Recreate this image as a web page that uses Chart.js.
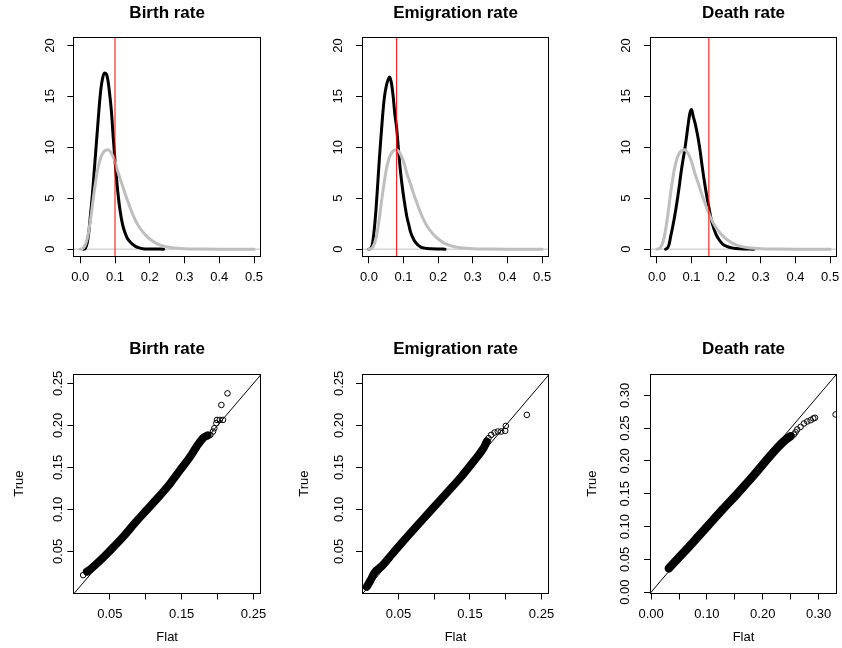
<!DOCTYPE html>
<html><head><meta charset="utf-8">
<script src="https://cdn.jsdelivr.net/npm/chart.js@4.4.0/dist/chart.umd.min.js"></script>
<style>
html,body{margin:0;padding:0;background:#fff;}
body{width:842px;height:648px;position:relative;overflow:hidden;}
canvas{position:absolute;}
</style></head><body>
<canvas id="c1"></canvas><canvas id="c2"></canvas><canvas id="c3"></canvas>
<canvas id="c4"></canvas><canvas id="c5"></canvas><canvas id="c6"></canvas>
<script>
// ---------- data ----------
const titles = ["Birth rate", "Emigration rate", "Death rate"];
const trueRates = [0.10, 0.08, 0.15];

// prior density (grey)
const priorX = [0,0.01,0.02,0.03,0.04,0.05,0.06,0.07,0.08,0.09,0.10,0.11,0.12,0.13,0.14,0.15,0.16,0.17,0.18,0.19,0.20,0.22,0.24,0.26,0.28,0.30,0.35,0.40,0.50];
const priorY = [0,0.15,1.0,3.0,5.6,7.8,9.1,9.65,9.77,9.4,8.6,7.4,6.4,5.35,4.4,3.5,2.75,2.15,1.7,1.3,1.0,0.55,0.3,0.16,0.08,0.04,0.01,0,0];

// posterior densities (black)
const birthPostX = [0.010,0.015,0.020,0.025,0.030,0.035,0.040,0.045,0.050,0.055,0.060,0.065,0.070,0.075,0.080,0.085,0.090,0.095,0.100,0.105,0.110,0.115,0.120,0.125,0.130,0.135,0.140,0.150,0.160,0.170,0.180,0.200,0.220,0.240];
const birthPostY = [0,0.1,0.6,1.8,3.6,5.4,7.6,9.8,12.0,14.2,15.9,16.9,17.3,17.2,16.5,15.1,13.4,10.9,8.7,6.7,5.0,3.7,2.7,2.0,1.5,1.1,0.85,0.5,0.25,0.12,0.05,0.02,0.01,0];
const emigPostX = [0,0.005,0.010,0.015,0.020,0.025,0.030,0.035,0.040,0.045,0.050,0.055,0.060,0.065,0.070,0.075,0.080,0.085,0.090,0.095,0.100,0.105,0.110,0.115,0.120,0.130,0.140,0.150,0.160,0.180,0.200,0.220];
const emigPostY = [0,0.05,0.5,1.8,3.7,6.2,8.8,11.1,13.3,15.0,16.0,16.6,16.9,16.3,15.0,13.2,11.9,9.9,8.0,6.5,5.2,4.1,3.1,2.4,1.7,0.9,0.45,0.2,0.1,0.03,0.01,0];
const deathPostX = [0.025,0.030,0.035,0.040,0.045,0.050,0.055,0.060,0.065,0.070,0.075,0.080,0.085,0.090,0.095,0.100,0.105,0.110,0.115,0.120,0.125,0.130,0.135,0.140,0.145,0.150,0.155,0.160,0.170,0.180,0.190,0.200,0.220,0.240,0.280];
const deathPostY = [0,0.1,0.45,1.3,2.1,3.0,4.0,5.1,6.3,7.6,8.7,9.7,10.9,12.2,13.3,13.7,13.0,12.4,11.6,10.7,9.6,8.3,7.1,6.0,5.0,4.1,3.2,2.5,1.5,0.9,0.5,0.3,0.1,0.03,0];

// QQ plots: dense band + sparse circles
const birthFlat = [0.018,0.023,0.038,0.049,0.069,0.085,0.102,0.119,0.134,0.148,0.162,0.171,0.180,0.186];
const birthTrue = [0.026,0.029,0.0405,0.050,0.068,0.084,0.100,0.116,0.131,0.147,0.163,0.175,0.185,0.188];
const birthTailFlat = [0.0127,0.190,0.1936,0.1955,0.1983,0.1992,0.203,0.2076,0.2053,0.2138];
const birthTailTrue = [0.0219,0.1887,0.1927,0.1966,0.2026,0.2065,0.2065,0.2065,0.2243,0.2381];

const emigFlat = [0.0057,0.0104,0.0164,0.0267,0.0407,0.0547,0.0733,0.0943,0.1153,0.1362,0.1549,0.1689,0.1735];
const emigTrue = [0.0081,0.0148,0.0247,0.0326,0.0464,0.0603,0.0781,0.0978,0.1176,0.1374,0.1571,0.1729,0.1808];
const emigTailFlat = [0.1759,0.1796,0.1843,0.1889,0.1936,0.1992,0.2001,0.2295];
const emigTailTrue = [0.1848,0.1887,0.1915,0.1927,0.1927,0.1935,0.1994,0.2125];

const deathFlat = [0.0317,0.0496,0.0735,0.1004,0.1273,0.1542,0.1811,0.205,0.226,0.2379,0.2499];
const deathTrue = [0.0362,0.0526,0.0745,0.1,0.1255,0.15,0.1755,0.1995,0.2199,0.2301,0.2378];
const deathTailFlat = [0.2558,0.2588,0.2618,0.2678,0.2738,0.2797,0.2857,0.2905,0.2935,0.3305];
const deathTailTrue = [0.2403,0.2439,0.248,0.2520,0.2571,0.2602,0.2622,0.2648,0.2658,0.2709];

// ticks
const topXTicks = [0,0.1,0.2,0.3,0.4,0.5];
const topXLabels = ["0.0","0.1","0.2","0.3","0.4","0.5"];
const topYTicks = [0,5,10,15,20];
const topYLabels = ["0","5","10","15","20"];
const qqTicks = [0.05,0.10,0.15,0.20,0.25];
const qqXLabels = ["0.05","","0.15","","0.25"];
const qqYLabels = ["0.05","0.10","0.15","0.20","0.25"];
const deathQQTicks = [0,0.05,0.10,0.15,0.20,0.25,0.30];
const deathQQXLabels = ["0.00","","0.10","","0.20","","0.30"];
const deathQQYLabels = ["0.00","0.05","0.10","0.15","0.20","0.25","0.30"];

// ---------- drawing ----------
const FONT = '"Liberation Sans", Arial, Helvetica, sans-serif';
Chart.defaults.font.family = FONT;
Chart.defaults.color = '#000';

const boxPlugin = {
  id: 'rbox',
  afterDraw(chart) {
    const {ctx, chartArea: a} = chart;
    ctx.save();
    ctx.strokeStyle = '#000'; ctx.lineWidth = 1;
    const l = Math.round(a.left) + 0.5, t = Math.round(a.top) + 0.5;
    const r = Math.round(a.right) - 0.5, b = Math.round(a.bottom) - 0.5;
    ctx.strokeRect(l, t, r - l, b - t);
    ctx.restore();
  }
};

function pts(xs, ys) { return xs.map((x, i) => ({x: x, y: ys[i]})); }

function curve(data, color, w, order) {
  return {data: data, showLine: true, borderColor: color, borderWidth: w, pointRadius: 0,
          order: order, cubicInterpolationMode: 'monotone', fill: false,
          borderCapStyle: 'round', borderJoinStyle: 'round'};
}
function circles(data, order) {
  return {data: data, showLine: false, pointRadius: 2.8, pointBorderWidth: 1,
          borderColor: '#000', pointBorderColor: '#000', backgroundColor: 'rgba(0,0,0,0)',
          pointBackgroundColor: 'rgba(0,0,0,0)', order: order};
}

function axisOpts(dir, min, max, ticks, labels, size, pad, titleText, titlePad) {
  return {
    type: 'linear', min: min, max: max, position: dir === 'x' ? 'bottom' : 'left',
    afterBuildTicks: s => { s.ticks = ticks.map(v => ({value: v})); },
    afterFit: s => {
      if (dir === 'x') s.height = size; else s.width = size;
      s.paddingLeft = 0; s.paddingRight = 0; s.paddingTop = 0; s.paddingBottom = 0;
    },
    grid: {display: true, drawOnChartArea: false, drawTicks: true, tickLength: 6, color: '#000', lineWidth: 1},
    border: {display: false},
    ticks: {autoSkip: false, padding: pad, font: {size: 13}, color: '#000',
            minRotation: dir === 'y' ? 90 : 0, maxRotation: dir === 'y' ? 90 : 0,
            crossAlign: dir === 'y' ? 'center' : 'near',
            callback: (v, i) => labels[i]},
    title: titleText ? {display: true, text: titleText, font: {size: 13}, color: '#000',
            padding: dir === 'x' ? {top: 0, bottom: titlePad} : {top: titlePad, bottom: 0}} : {display: false}
  };
}

function panel(id, g, title, datasets, xs, ys) {
  const cv = document.getElementById(id);
  cv.width = g.w; cv.height = g.h;
  cv.style.left = g.l + 'px'; cv.style.top = g.t + 'px';
  const titleLH = 17 * 1.2;
  const tb = (g.bt - g.t) - g.titleTop - titleLH;
  new Chart(cv, {
    type: 'scatter',
    data: {datasets: datasets},
    options: {
      responsive: false, animation: false, devicePixelRatio: 1,
      layout: {padding: {left: 0, top: 0, bottom: 0, right: g.l + g.w - g.br}},
      plugins: {
        legend: {display: false}, tooltip: {enabled: false},
        title: {display: true, text: title, fullSize: false, color: '#000',
                font: {size: 17, weight: 'bold', family: FONT},
                padding: {top: g.titleTop, bottom: tb}}
      },
      scales: {
        x: axisOpts('x', xs.min, xs.max, xs.ticks, xs.labels, g.t + g.h - g.bb, xs.pad, xs.title, xs.titlePad),
        y: axisOpts('y', ys.min, ys.max, ys.ticks, ys.labels, g.bl - g.l, ys.pad, ys.title, ys.titlePad)
      }
    },
    plugins: [boxPlugin]
  });
}

const cols = [
  {l: 0, w: 280, bl: 73.3, br: 261},
  {l: 280, w: 280, bl: 362, br: 549},
  {l: 560, w: 282, bl: 650, br: 837}
];
const topRow = {t: 0, h: 300, bt: 37.3, bb: 257.3, titleTop: 3.3};
const botRow = {t: 320, h: 328, bt: 373.7, bb: 593.5, titleTop: 19.5};

const posts = [pts(birthPostX, birthPostY), pts(emigPostX, emigPostY), pts(deathPostX, deathPostY)];
const topYPad = [10, 10, 10.5];

for (let i = 0; i < 3; i++) {
  const g = Object.assign({}, cols[i], topRow);
  const r = trueRates[i];
  const ds = [
    curve([{x: r, y: -5}, {x: r, y: 30}], '#FF0000', 1, 0),
    curve(pts(priorX, priorY), '#BEBEBE', 3, 1),
    curve(posts[i], '#000000', 3, 2),
    curve([{x: -1, y: 0}, {x: 1, y: 0}], '#BEBEBE', 1, 3)
  ];
  ds[0].cubicInterpolationMode = 'default'; ds[3].cubicInterpolationMode = 'default';
  panel('c' + (i + 1), g, titles[i], ds,
    {min: -0.02, max: 0.52, ticks: topXTicks, labels: topXLabels, pad: 6.5},
    {min: -0.8, max: 20.8, ticks: topYTicks, labels: topYLabels, pad: topYPad[i]});
}

const bands = [pts(birthFlat, birthTrue), pts(emigFlat, emigTrue), pts(deathFlat, deathTrue)];
const tails = [pts(birthTailFlat, birthTailTrue), pts(emigTailFlat, emigTailTrue), pts(deathTailFlat, deathTailTrue)];
const bandW = [8, 8, 8.5];
const qqAxes = [
  {x: {min: -0.001, max: 0.2605, ticks: qqTicks, labels: qqXLabels}, y: {min: 0, max: 0.2615, ticks: qqTicks, labels: qqYLabels}, ypad: -4, ytp: 11.2},
  {x: {min: -0.001, max: 0.2605, ticks: qqTicks, labels: qqXLabels}, y: {min: 0, max: 0.2615, ticks: qqTicks, labels: qqYLabels}, ypad: 4, ytp: 16.2},
  {x: {min: -0.002, max: 0.333, ticks: deathQQTicks, labels: deathQQXLabels}, y: {min: -0.002, max: 0.333, ticks: deathQQTicks, labels: deathQQYLabels}, ypad: 5.9, ytp: 24.7}
];
for (let i = 0; i < 3; i++) {
  const g = Object.assign({}, cols[i], botRow);
  const ds = [
    curve([{x: -1, y: -1}, {x: 1, y: 1}], '#000000', 1, 0),
    circles(tails[i], 1),
    curve(bands[i], '#000000', bandW[i], 2)
  ];
  ds[0].cubicInterpolationMode = 'default';
  const a = qqAxes[i];
  panel('c' + (i + 4), g, titles[i], ds,
    Object.assign({pad: 7, title: 'Flat', titlePad: 2.7}, a.x),
    Object.assign({pad: a.ypad, title: 'True', titlePad: a.ytp}, a.y));
}
</script>
</body></html>
